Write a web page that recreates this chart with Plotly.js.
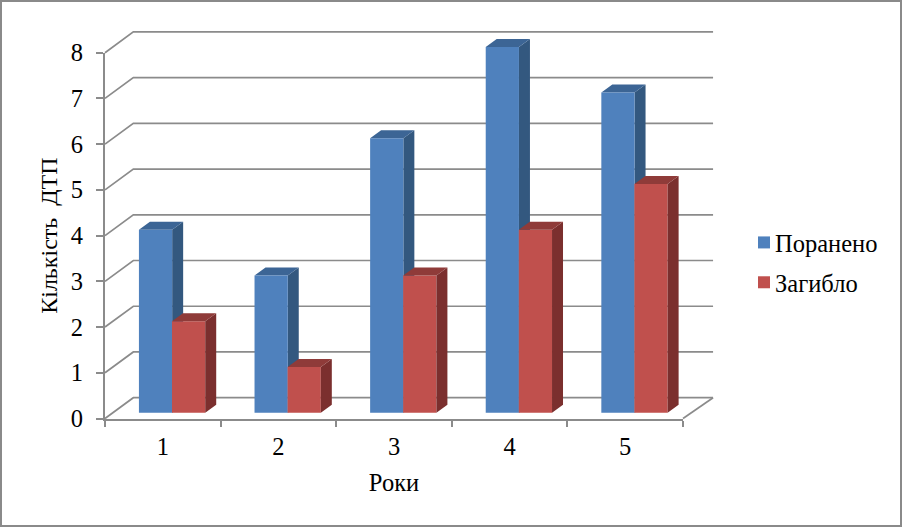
<!DOCTYPE html>
<html>
<head>
<meta charset="utf-8">
<script src="https://cdn.plot.ly/plotly-3.0.1.min.js"></script>
<style>
html,body{margin:0;padding:0;background:#fff;}
#chart{width:902px;height:527px;position:absolute;left:0;top:0;}
#frame{position:absolute;left:0;top:0;width:902px;height:527px;box-sizing:border-box;border:2px solid #8a8a8a;pointer-events:none;z-index:10;}
</style>
</head>
<body>
<div id="chart"></div>
<div id="frame"></div>
<script>
// ---- chart data ----
const years = [1, 2, 3, 4, 5];
const injured = [4, 3, 6, 8, 7];
const killed = [2, 1, 3, 4, 5];
const valueTicks = [0, 1, 2, 3, 4, 5, 6, 7, 8];
const nameInjured = 'Поранено';
const nameKilled = 'Загибло';
const xTitle = 'Роки';
const yTitle = 'Кількість  ДТП';

// ---- pseudo-3D geometry, in axis units ----
const XMIN = 0.5, XMAX = 5.5, YMIN = 0, YMAX = 8;
const WALL_DX = 0.245, WALL_DX_END = 0.26, WALL_DY = 0.455;
const BAR_W = 0.2875, BAR_BASE = 0.127;
const BLUE_OFF = -0.2065, RED_OFF = 0.0795;
const SIDE_DX = 0.095, SIDE_DY = 0.175;

// ---- page layout, in pixels ----
const AX_L = 105, AX_R = 683, AX_T = 52.7, AX_B = 418.5;   // the front axes box
const FULL_L = 100, FULL_R = 725, FULL_T = 22, FULL_B = 426; // area the 3D faces may occupy
const FW = FULL_R - FULL_L, FH = FULL_B - FULL_T;
const pxX = (AX_R - AX_L) / (XMAX - XMIN), pxY = (AX_B - AX_T) / (YMAX - YMIN);
const fullX = [XMIN - (AX_L - FULL_L) / pxX, XMAX + (FULL_R - AX_R) / pxX];
const fullY = [YMIN - (FULL_B - AX_B) / pxY, YMAX + (AX_T - FULL_T) / pxY];

const GRID = '#8b8b8b';
const FONT = 'Liberation Serif, Times New Roman, serif';
const FS = 24.5;

function gridTrace() {
  const xs = [], ys = [];
  valueTicks.forEach(v => {
    xs.push(XMIN, XMIN + WALL_DX, XMAX + WALL_DX_END, null);
    ys.push(v, v + WALL_DY, v + WALL_DY, null);
  });
  xs.push(XMAX + WALL_DX_END, XMAX);
  ys.push(WALL_DY, 0);
  return {x: xs, y: ys, mode: 'lines', line: {color: GRID, width: 1.7},
          showlegend: false, hoverinfo: 'skip', xaxis: 'x2', yaxis: 'y2'};
}

function faces(values, off, kind) {
  const xs = [], ys = [];
  values.forEach((v, i) => {
    const l = years[i] + off, r = l + BAR_W, t = v + BAR_BASE;
    if (kind === 'side') {
      xs.push(r, r + SIDE_DX, r + SIDE_DX, r, r, null);
      ys.push(BAR_BASE, BAR_BASE + SIDE_DY, t + SIDE_DY, t, BAR_BASE, null);
    } else {
      xs.push(l, l + SIDE_DX, r + SIDE_DX, r, l, null);
      ys.push(t, t + SIDE_DY, t + SIDE_DY, t, t, null);
    }
  });
  return {x: xs, y: ys};
}

function faceTrace(values, off, kind, color, ax) {
  const f = faces(values, off, kind);
  return {x: f.x, y: f.y, mode: 'lines', fill: 'toself', fillcolor: color,
          line: {width: 0, color: color}, showlegend: false,
          hoverinfo: 'skip', xaxis: ax[0], yaxis: ax[1]};
}

function barTrace(values, off, color, name) {
  return {type: 'bar', name: name, legendgroup: name, x: years, y: values, base: BAR_BASE,
          width: BAR_W, offset: off, marker: {color: color, line: {width: 0}},
          xaxis: 'x3', yaxis: 'y3'};
}

const traces = [
  {x: [XMIN, XMAX], y: [YMIN, YMAX], mode: 'none', showlegend: false, hoverinfo: 'skip', xaxis: 'x', yaxis: 'y'},
  gridTrace(),
  faceTrace(injured, BLUE_OFF, 'side', '#33587f', ['x2', 'y2']),
  faceTrace(injured, BLUE_OFF, 'top', '#3c6595', ['x2', 'y2']),
  barTrace(injured, BLUE_OFF, '#4f81bd', nameInjured),
  barTrace(killed, RED_OFF, '#c0504d', nameKilled),
  faceTrace(killed, RED_OFF, 'side', '#7b2f2e', ['x3', 'y3']),
  faceTrace(killed, RED_OFF, 'top', '#8f3b39', ['x3', 'y3'])
];

const hiddenX = {range: fullX, domain: [0, 1], visible: false, fixedrange: true};
const hiddenY = {range: fullY, domain: [0, 1], visible: false, fixedrange: true};

const layout = {
  width: 902, height: 527,
  paper_bgcolor: '#fff', plot_bgcolor: 'rgba(0,0,0,0)',
  margin: {l: FULL_L, r: 902 - FULL_R, t: FULL_T, b: 527 - FULL_B, autoexpand: false},
  barmode: 'overlay',
  font: {family: FONT, size: FS, color: '#000'},
  xaxis: {
    type: 'linear', range: [XMIN, XMAX], anchor: 'y',
    domain: [(AX_L - FULL_L) / FW, (AX_R - FULL_L) / FW],
    tickvals: years, ticktext: years.map(String),
    ticks: '', ticklabelstandoff: 5, showgrid: false, zeroline: false,
    showline: true, linecolor: GRID, linewidth: 2,
    minor: {tickvals: [0.5, 1.5, 2.5, 3.5, 4.5, 5.5], ticks: 'outside', ticklen: 6, tickcolor: GRID, tickwidth: 2, showgrid: false},
    title: {text: xTitle, standoff: 15, font: {size: FS}}
  },
  yaxis: {
    type: 'linear', range: [YMIN, YMAX], anchor: 'x',
    domain: [(FULL_B - AX_B) / FH, (FULL_B - AX_T) / FH],
    tickvals: valueTicks, ticks: 'outside', ticklen: 7,
    tickcolor: GRID, tickwidth: 2, ticklabelstandoff: 8, showgrid: false, zeroline: false,
    showline: true, linecolor: GRID, linewidth: 2,
    title: {text: yTitle, standoff: 6, font: {size: 24}}
  },
  xaxis2: Object.assign({anchor: 'y2'}, hiddenX),
  yaxis2: Object.assign({anchor: 'x2'}, hiddenY),
  xaxis3: Object.assign({anchor: 'y3'}, hiddenX),
  yaxis3: Object.assign({anchor: 'x3'}, hiddenY),
  legend: {
    x: 735 / 902, xref: 'container', y: 1 - 220 / 527, yref: 'container',
    xanchor: 'left', yanchor: 'top', tracegroupgap: 5, traceorder: 'grouped',
    bgcolor: 'rgba(0,0,0,0)', font: {size: FS}
  },
  showlegend: true
};

Plotly.newPlot('chart', traces, layout, {staticPlot: true, displayModeBar: false}).then(gd => {
  // the reference keeps the legend swatch closer to its text than Plotly's minimum item width
  gd.querySelectorAll('.legendpoints').forEach(el => {
    el.setAttribute('transform', (el.getAttribute('transform') || '') + ' translate(9,0)');
  });
});
</script>
</body>
</html>
